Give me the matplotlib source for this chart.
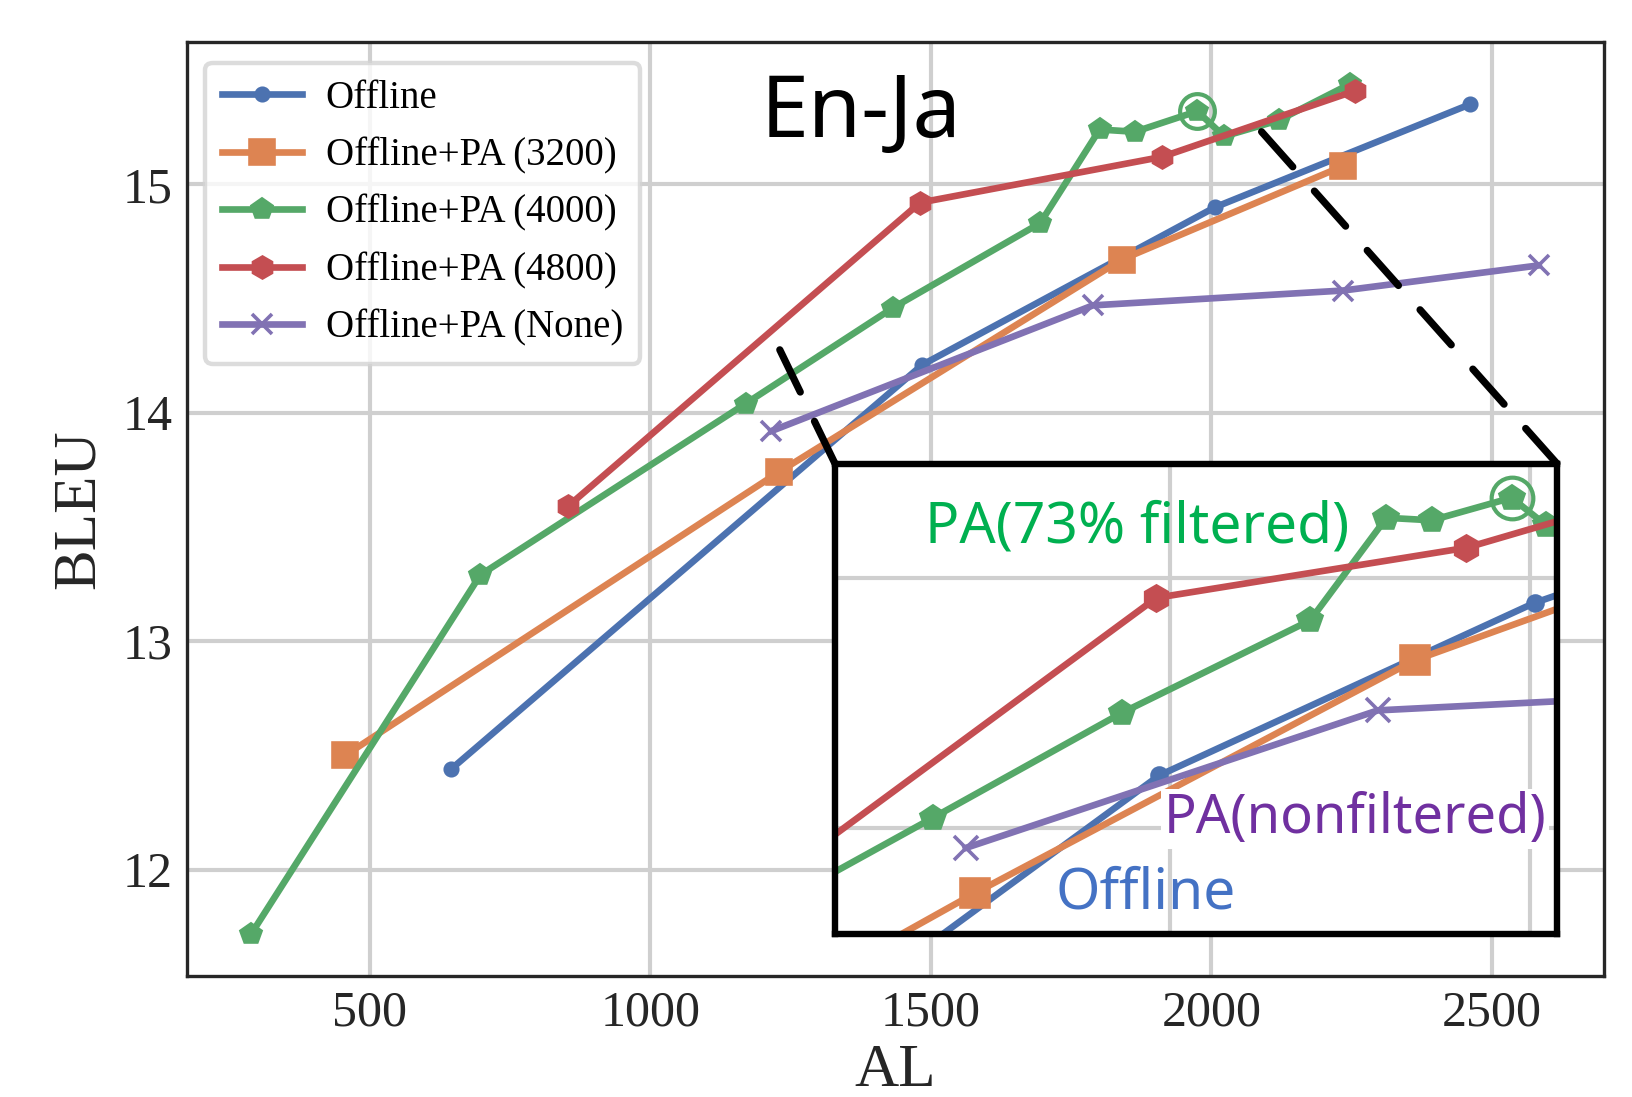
import numpy as np
import matplotlib
matplotlib.use('Agg')
import matplotlib.pyplot as plt
from matplotlib.patches import ConnectionPatch

plt.rcParams['font.family'] = ['Liberation Serif', 'DejaVu Serif']

# data (AL vs BLEU)
offline_al = [645, 1485, 2007, 2461]
offline_bleu = [12.44, 14.21, 14.90, 15.35]
pa3200_al = [456, 1229, 1840, 2235]
pa3200_bleu = [12.50, 13.74, 14.67, 15.08]
pa4000_al = [289, 697, 1170, 1433, 1695, 1801, 1864, 1975, 2023, 2120, 2248]
pa4000_bleu = [11.72, 13.29, 14.04, 14.46, 14.83, 15.24, 15.23, 15.32, 15.21, 15.28, 15.44]
pa4800_al = [853, 1481, 1912, 2257]
pa4800_bleu = [13.59, 14.92, 15.12, 15.41]
panone_al = [1216, 1789, 2235, 2584]
panone_bleu = [13.92, 14.47, 14.535, 14.645]
circled = (1975, 15.32)

labels = ['Offline', 'Offline+PA (3200)', 'Offline+PA (4000)',
          'Offline+PA (4800)', 'Offline+PA (None)']
series = [(offline_al, offline_bleu), (pa3200_al, pa3200_bleu),
          (pa4000_al, pa4000_bleu), (pa4800_al, pa4800_bleu),
          (panone_al, panone_bleu)]
colors = ['#4C72B0', '#DD8452', '#55A868', '#C44E52', '#8172B3']
markers = ['o', 's', 'p', 'h', 'x']
msizes = [4.5, 8.5, 7.5, 7.5, 7]

fig = plt.figure(figsize=(8.165, 5.485), dpi=200)
ax = fig.add_axes([0.1145, 0.1103, 0.8677, 0.8514])


def draw(a, scale=1.0, lab=True):
    for (x, y), lb, c, m, ms in zip(series, labels, colors, markers, msizes):
        a.plot(x, y, color=c, marker=m, markersize=ms * scale, lw=2.4,
               mew=1.3, label=lb if lab else None)
    a.plot(*circled, marker='o', ms=12.5 * scale, mfc='none', mec='#55A868', mew=1.5)
    a.grid(True, color='#cfcfcf', lw=1.5)
    a.set_axisbelow(True)


draw(ax)
ax.set_xlim(174, 2700)
ax.set_ylim(11.534, 15.623)
ax.set_xticks([500, 1000, 1500, 2000, 2500])
ax.set_yticks([12, 13, 14, 15])
ax.tick_params(length=0, labelsize=18, colors='#262626', pad=5)
for s in ax.spines.values():
    s.set_color('#262626')
    s.set_linewidth(1.2)
ax.set_xlabel('AL', fontsize=22, color='#262626', labelpad=2.5)
ax.set_ylabel('BLEU', fontsize=22, color='#262626', labelpad=6)

leg = ax.legend(loc='upper left', bbox_to_anchor=(0.0127, 0.978), borderaxespad=0,
                fontsize=14, labelspacing=0.52, handlelength=2.05, handletextpad=0.6,
                borderpad=0.45, frameon=True, fancybox=True)
leg.get_frame().set_edgecolor('#d4d4d4')
leg.get_frame().set_linewidth(1.6)

ax.text(0.405, 0.922, 'En-Ja', transform=ax.transAxes, fontsize=31, fontweight='semibold',
        family=['Noto Sans', 'DejaVu Sans'], va='center', ha='left', color='black')

# zoomed inset
ins = ax.inset_axes([0.4573, 0.045, 0.5095, 0.5037])
ins.set_facecolor('white')
draw(ins, scale=1.2, lab=False)
ins.set_xlim(1034, 2038)
ins.set_ylim(13.576, 15.457)
ins.set_xticks([1500, 2000])
ins.set_yticks([14, 15])
ins.tick_params(length=0, labelbottom=False, labelleft=False)
for s in ins.spines.values():
    s.set_color('black')
    s.set_linewidth(2.3)

sans = ['Noto Sans', 'DejaVu Sans']
ins.text(0.125, 0.862, 'PA(73% filtered)', transform=ins.transAxes, fontsize=20.5,
         family=sans, color='#00B050', va='center', ha='left')
ins.text(0.455, 0.245, 'PA(nonfiltered)', transform=ins.transAxes, fontsize=19.5,
         family=sans, color='#7030A0', va='center', ha='left',
         bbox=dict(facecolor='white', edgecolor='none', pad=1))
ins.text(0.305, 0.084, 'Offline', transform=ins.transAxes, fontsize=20.5,
         family=sans, color='#4472C4', va='center', ha='left')

# dashed connectors from the inset corners
for corner, target in [((0, 1), (1224, 14.31)), ((1, 1), (2068, 15.29))]:
    cp = ConnectionPatch(xyA=corner, coordsA=ins.transAxes, xyB=target,
                         coordsB=ax.transData, color='black', lw=2.6,
                         ls=(0, (6.5, 4.5)), zorder=10)
    fig.add_artist(cp)

fig.savefig('out.png', dpi=200)
